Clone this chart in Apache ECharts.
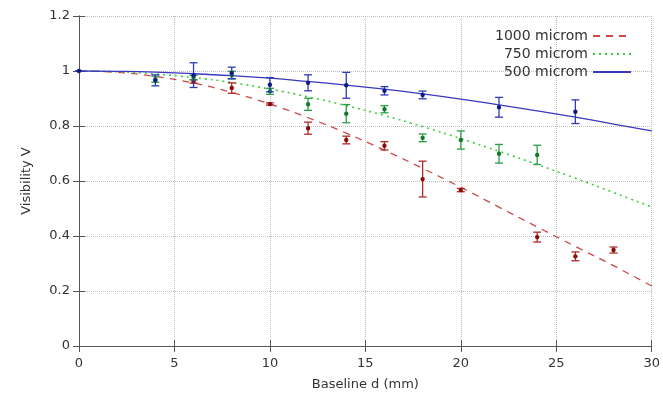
<!DOCTYPE html>
<html>
<head>
<meta charset="UTF-8">
<title></title>
<style type="text/css">
	* { margin: 0; padding: 0; }
	#chart { width: 663px; height: 401px; background: #fff; }
</style>
</head>
<body>
<div id="chart"></div>
<script src="https://cdn.jsdelivr.net/npm/echarts@6/dist/echarts.min.js"></script>
<script type="text/javascript">
// model curves, every 2 mm
var curveX = [0, 2, 4, 6, 8, 10, 12, 14, 16, 18, 20, 22, 24, 26, 28, 30];
var curve1000 = [1, 0.995, 0.980, 0.956, 0.922, 0.880, 0.830, 0.774, 0.712, 0.646, 0.577, 0.505, 0.433, 0.362, 0.292, 0.218];
var curve750 = [1, 0.997, 0.989, 0.976, 0.958, 0.934, 0.906, 0.874, 0.838, 0.798, 0.754, 0.708, 0.660, 0.610, 0.558, 0.506];
var curve500 = [1, 0.999, 0.996, 0.990, 0.983, 0.974, 0.962, 0.949, 0.934, 0.917, 0.898, 0.877, 0.855, 0.832, 0.807, 0.782];

// measured points with error (half height of bar)
var x1000 = [6, 8, 10, 12, 14, 16, 18, 20, 24, 26, 28];
var v1000 = [0.962, 0.938, 0.880, 0.792, 0.749, 0.728, 0.607, 0.567, 0.396, 0.326, 0.349];
var e1000 = [0.006, 0.019, 0.004, 0.022, 0.014, 0.015, 0.065, 0.006, 0.018, 0.016, 0.011];

var x750 = [4, 6, 8, 10, 12, 14, 16, 18, 20, 22, 24];
var v750 = [0.970, 0.976, 0.985, 0.926, 0.879, 0.845, 0.861, 0.757, 0.749, 0.699, 0.695];
var e750 = [0.011, 0.008, 0.014, 0.011, 0.022, 0.033, 0.013, 0.014, 0.033, 0.034, 0.035];

var x500 = [0, 4, 6, 8, 10, 12, 14, 16, 18, 22, 26];
var v500 = [1.0, 0.966, 0.985, 0.993, 0.950, 0.957, 0.948, 0.928, 0.913, 0.868, 0.852];
var e500 = [0, 0.020, 0.045, 0.021, 0.026, 0.029, 0.047, 0.015, 0.014, 0.036, 0.043];

var names = ['1000 microm', '750 microm', '500 microm'];

function pairs(xs, ys) {
	var out = [];
	for (var i = 0; i < xs.length; i++) out.push([xs[i], ys[i]]);
	return out;
}
function errData(xs, vs, es) {
	var out = [];
	for (var i = 0; i < xs.length; i++) out.push([xs[i], vs[i], vs[i] - es[i], vs[i] + es[i]]);
	return out;
}
function errSerie(data, barColor, dotColor) {
	return {
		type: 'custom',
		silent: true,
		z: 5,
		data: data,
		renderItem: function (params, api) {
			var x = api.value(0);
			var mid = api.coord([x, api.value(1)]);
			var lo = api.coord([x, api.value(2)]);
			var hi = api.coord([x, api.value(3)]);
			var w = 4;
			var st = { stroke: barColor, lineWidth: 1.3 };
			return {
				type: 'group',
				children: [
					{ type: 'line', shape: { x1: lo[0], y1: lo[1], x2: hi[0], y2: hi[1] }, style: st },
					{ type: 'line', shape: { x1: lo[0] - w, y1: lo[1], x2: lo[0] + w, y2: lo[1] }, style: st },
					{ type: 'line', shape: { x1: hi[0] - w, y1: hi[1], x2: hi[0] + w, y2: hi[1] }, style: st },
					{ type: 'circle', shape: { cx: mid[0], cy: mid[1], r: 2.2 }, style: { fill: dotColor } }
				]
			};
		}
	};
}

var chart = echarts.init(document.getElementById('chart'));
var font = 'DejaVu Sans';
var labelStyle = { color: '#333', fontSize: 13, fontFamily: font };

chart.setOption({
	animation: false,
	grid: { left: 79, right: 9, top: 16, bottom: 55, show: false },
	legend: {
		data: names,
		orient: 'vertical',
		right: 26,
		top: 24,
		align: 'right',
		itemWidth: 38,
		itemHeight: 14,
		itemGap: 4,
		itemStyle: { opacity: 0 },
		textStyle: { color: '#333', fontSize: 14, fontFamily: font }
	},
	xAxis: [{
		type: 'value', min: 0, max: 30, interval: 5,
		name: 'Baseline d (mm)', nameLocation: 'middle', nameGap: 32,
		nameTextStyle: { color: '#333', fontSize: 13, fontFamily: font },
		axisLine: { show: true, lineStyle: { color: '#555', width: 1 } },
		axisTick: { show: true, inside: true, length: 6, lineStyle: { color: '#555' } },
		axisLabel: { color: '#333', fontSize: 13, fontFamily: font, margin: 11 },
		splitLine: { show: true, lineStyle: { color: '#bbb', type: 'dotted' } }
	}, {
		type: 'value', min: 0, max: 30, interval: 5, position: 'top',
		axisLine: { show: true, lineStyle: { color: '#555', width: 1 } },
		axisTick: { show: true, inside: true, length: 6, lineStyle: { color: '#555' } },
		axisLabel: { show: false },
		splitLine: { show: false }
	}],
	yAxis: [{
		type: 'value', min: 0, max: 1.2, interval: 0.2,
		name: 'Visibility V', nameLocation: 'middle', nameGap: 46,
		nameTextStyle: { color: '#333', fontSize: 13, fontFamily: font },
		axisLine: { show: true, lineStyle: { color: '#555', width: 1 } },
		axisTick: { show: true, inside: true, length: 6, lineStyle: { color: '#555' } },
		axisLabel: { color: '#333', fontSize: 13, fontFamily: font, margin: 9 },
		splitLine: { show: true, lineStyle: { color: '#bbb', type: 'dotted' } }
	}, {
		type: 'value', min: 0, max: 1.2, interval: 0.2, position: 'right',
		axisLine: { show: true, lineStyle: { color: '#555', width: 1 } },
		axisTick: { show: true, inside: true, length: 6, lineStyle: { color: '#555' } },
		axisLabel: { show: false },
		splitLine: { show: false }
	}],
	series: [
		{
			name: names[0], type: 'line', smooth: true, symbol: 'none', z: 3,
			color: '#cc4a4a',
			lineStyle: { color: '#cc4a4a', width: 1.3, type: [7, 6] },
			data: pairs(curveX, curve1000)
		},
		{
			name: names[1], type: 'line', smooth: true, symbol: 'none', z: 3,
			color: '#3fcc3f',
			lineStyle: { color: '#3fcc3f', width: 1.6, type: [2, 4] },
			data: pairs(curveX, curve750)
		},
		{
			name: names[2], type: 'line', smooth: true, symbol: 'none', z: 3,
			color: '#3838c0',
			lineStyle: { color: '#3838c0', width: 1.3 },
			data: pairs(curveX, curve500)
		},
		errSerie(errData(x1000, v1000, e1000), '#b02a2a', '#8a0c0c'),
		errSerie(errData(x750, v750, e750), '#2a9e46', '#137a2c'),
		errSerie(errData(x500, v500, e500), '#2c3cb8', '#0c1a8a')
	]
});
</script>
</body>
</html>
